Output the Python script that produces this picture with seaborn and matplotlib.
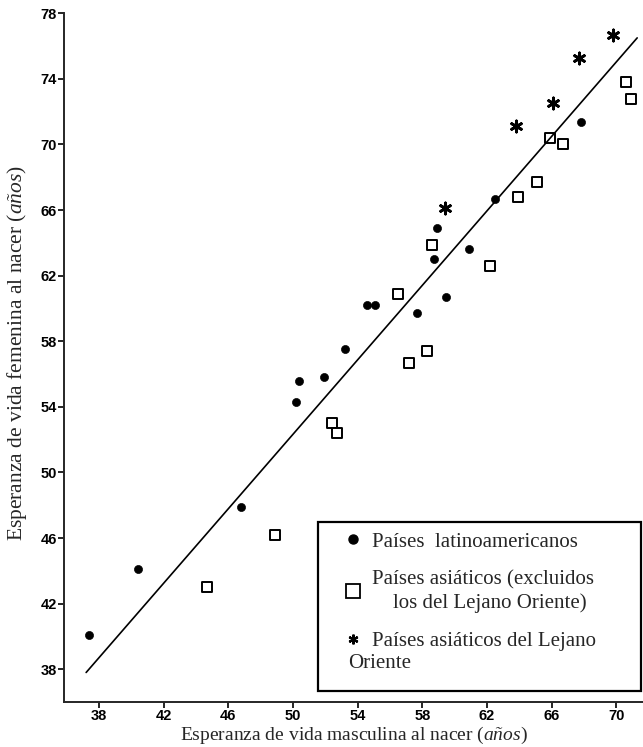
import matplotlib
matplotlib.use("Agg")
import matplotlib.pyplot as plt
import seaborn as sns
from matplotlib.lines import Line2D
from matplotlib.patches import Rectangle

# --- Data (male vs female life expectancy at birth) ---
lat_x = [37.4, 40.4, 46.8, 50.2, 50.4, 51.9, 53.2, 54.6, 55.1, 57.7, 58.7, 58.9, 59.5, 60.9, 62.5, 67.8]
lat_y = [40.1, 44.1, 47.9, 54.3, 55.6, 55.8, 57.5, 60.2, 60.2, 59.7, 63.0, 64.9, 60.7, 63.6, 66.7, 71.4]

asia_x = [44.7, 48.9, 52.4, 52.7, 56.5, 57.2, 58.3, 58.6, 62.2, 63.9, 65.1, 65.9, 66.7, 70.6, 70.9]
asia_y = [43.0, 46.2, 53.0, 52.4, 60.9, 56.7, 57.4, 63.9, 62.6, 66.8, 67.7, 70.4, 70.0, 73.8, 72.8]

far_x = [59.4, 63.8, 66.1, 67.7, 69.8]
far_y = [66.1, 71.1, 72.5, 75.3, 76.7]

line_x = [37.2, 71.3]
line_y = [37.8, 76.5]

x_ticks = [38, 42, 46, 50, 54, 58, 62, 66, 70]
y_ticks = [38, 42, 46, 50, 54, 58, 62, 66, 70, 74, 78]

labels = ["Países  latinoamericanos",
          "Países asiáticos (excluidos\n    los del Lejano Oriente)",
          "Países asiáticos del Lejano"]
label_tail = "Oriente"

# --- Style ---
sns.set_style("ticks")
plt.rcParams["font.family"] = ["Liberation Serif", "DejaVu Serif"]
plt.rcParams["mathtext.fontset"] = "custom"
plt.rcParams["mathtext.rm"] = "Liberation Serif"
plt.rcParams["mathtext.it"] = "Liberation Serif:italic"

fig = plt.figure(figsize=(6.43, 7.47), dpi=100)
ax = fig.add_axes([64 / 643, 45 / 747, 579 / 643, 688.7 / 747])

star = (6, 2, 0)

# --- Fitted line ---
sns.lineplot(x=line_x, y=line_y, color="black", linewidth=1.2, ax=ax)

# --- Points ---
sns.scatterplot(x=lat_x, y=lat_y, marker="o", s=34, color="black", edgecolor="black", ax=ax)
sns.scatterplot(x=asia_x, y=asia_y, marker="s", s=45, facecolor="white", edgecolor="black",
                linewidth=1.4, ax=ax)
ax.scatter(far_x, far_y, marker=star, s=64, color="black", linewidths=2.0)

# --- Axes ---
ax.set_xlim(35.83, 71.66)
ax.set_ylim(36.0, 78.0)
ax.set_xticks(x_ticks)
ax.set_yticks(y_ticks)
sns.despine(ax=ax)
for s in ["left", "bottom"]:
    ax.spines[s].set_linewidth(1.4)
ax.tick_params(length=4, width=1.2, pad=1, colors="black")
for t in ax.get_xticklabels() + ax.get_yticklabels():
    t.set_family(["Liberation Sans Narrow", "Liberation Sans"])
    t.set_fontweight("bold")
    t.set_fontsize(10.5)

ax.set_xlabel(r"Esperanza de vida masculina al nacer ($\mathit{años}$)", fontsize=14)
ax.set_ylabel(r"Esperanza de vida femenina al nacer ($\mathit{años}$)", fontsize=15.5)
ax.xaxis.set_label_coords(0.5, -0.0325)
ax.yaxis.set_label_coords(-0.06, 0.507)

# --- Legend: square frame plus keys and labels ---
ax.add_patch(Rectangle((0.4387, 0.016), 0.5578, 0.2454, transform=ax.transAxes,
                       fill=False, edgecolor="black", linewidth=1.6, clip_on=False))
handles = [
    Line2D([], [], marker="o", linestyle="none", color="black", markersize=6.5),
    Line2D([], [], marker="s", linestyle="none", markerfacecolor="white",
           markeredgecolor="black", markersize=10, markeredgewidth=1.3),
    Line2D([], [], marker=star, linestyle="none", color="black", markersize=7,
           markeredgewidth=1.6),
]
leg = ax.legend(handles, labels, loc="upper left", bbox_to_anchor=(0.481, 0.2468),
                prop={"family": "Liberation Serif", "size": 15},
                frameon=False, handlelength=1.0, handletextpad=0.4, borderpad=0,
                labelspacing=0.9, borderaxespad=0)
for t in leg.get_texts():
    t.set_linespacing(1.25)
ax.text(0.4905, (702 - 663) / 688.7, label_tail, transform=ax.transAxes,
        fontsize=15, va="center", ha="left")

fig.savefig("out.png", dpi=100)
